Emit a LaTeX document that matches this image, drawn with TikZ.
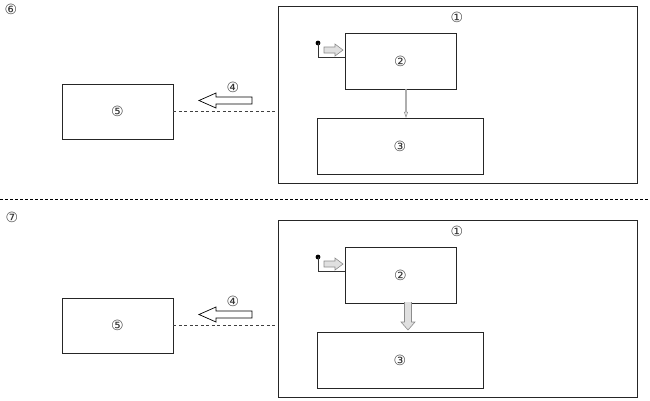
\documentclass[tikz,border=0pt]{standalone}
\usepackage{fontspec}
\newfontfamily\circfont{DejaVu Sans}
\begin{document}
\begin{tikzpicture}[x=1pt,y=-1pt,
  box/.style={draw=black!85,line width=0.9pt},
  num/.style={font=\circfont\fontsize{14}{14}\selectfont,text=black!80,inner sep=0pt},
  hollow/.style={draw=black,line width=0.7pt,fill=white},
  grayarr/.style={draw=black!45,fill=black!12,line width=0.6pt},
  conn/.style={draw=black!80,line width=0.7pt}]
\useasboundingbox (0,0) rectangle (650,400);
\node[num] (n6) at (11,9) {⑥};
\node[num] (n7) at (12,217) {⑦};
\draw[dashed,line width=0.8pt,dash pattern=on 3pt off 2pt] (0,199) -- (650,199);
\foreach \dy/\sfx in {0/a,214/b}{
  \begin{scope}[yshift=-\dy pt]
  \node[box,minimum width=359pt,minimum height=177pt,inner sep=0pt] (outer\sfx) at (457.5,94.5) {};
  \node[num] (n1\sfx) at (457,17) {①};
  \node[box,minimum width=111pt,minimum height=56pt,inner sep=0pt] (b2\sfx) at (400.5,61) {};
  \node[num] at (b2\sfx) {②};
  \node[box,minimum width=166pt,minimum height=56pt,inner sep=0pt] (b3\sfx) at (400,146) {};
  \node[num] at (b3\sfx) {③};
  \node[box,minimum width=111pt,minimum height=55pt,inner sep=0pt] (b5\sfx) at (117.5,111.5) {};
  \node[num] at (b5\sfx) {⑤};
  \draw[dashed,line width=0.8pt,draw=black!75,dash pattern=on 3pt off 2.5pt] (b5\sfx.east) -- (b5\sfx.east -| outer\sfx.west);
  \draw[hollow] (252,97) -- (216,97) -- (216,93) -- (199,100.5) -- (216,108) -- (216,104) -- (252,104) -- cycle;
  \node[num] (n4\sfx) at (233,87) {④};
  \coordinate (dot\sfx) at (318,43);
  \fill (dot\sfx) circle (2.4pt);
  \draw[conn] (dot\sfx) -- (318,57) -- (318,57 -| b2\sfx.west);
  \draw[grayarr] (324,47) -- (335,47) -- (335,44) -- (343,50) -- (335,56) -- (335,53) -- (324,53) -- cycle;
  \end{scope}
}
\draw[draw=black!45,fill=black!10,line width=0.5pt] (405.3,89) -- (405.3,112) -- (404.3,112) -- (406,117) -- (407.7,112) -- (406.7,112) -- (406.7,89);
\draw[grayarr] (404.5,302) -- (404.5,322) -- (401,322) -- (408,330) -- (415,322) -- (411.5,322) -- (411.5,302);
\end{tikzpicture}
\end{document}
